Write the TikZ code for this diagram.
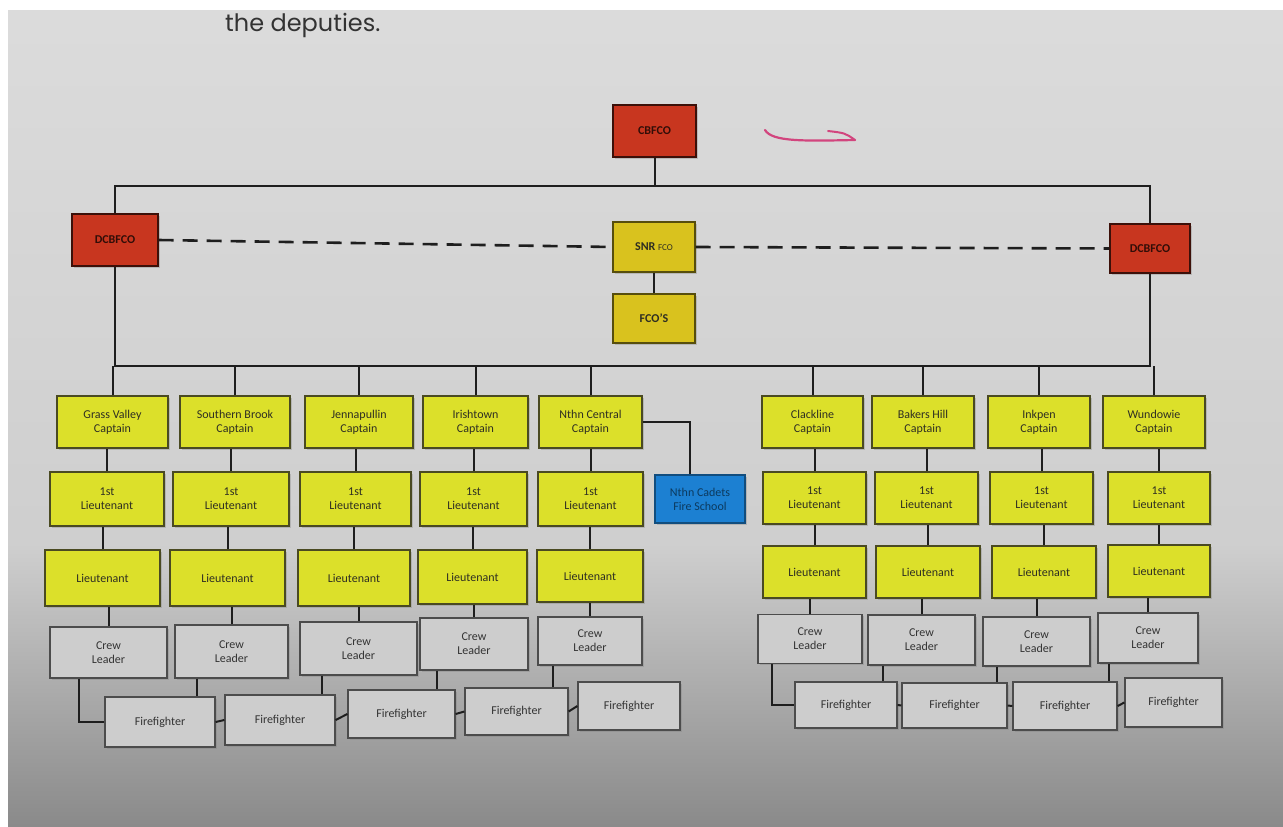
\documentclass[tikz,border=0pt]{standalone}
\usepackage{fontspec}
\setmainfont{Carlito}
\newfontfamily\headfont{Poppins}
\usetikzlibrary{shadows}
\definecolor{capy}{HTML}{DCE02A}
\definecolor{ydraw}{HTML}{4A4A22}
\definecolor{redf}{HTML}{C8361F}
\definecolor{mustard}{HTML}{D9C21E}
\definecolor{bluef}{HTML}{1C80D2}
\definecolor{grayf}{HTML}{CDCDCD}
\definecolor{txt}{HTML}{2E2E22}
\definecolor{linec}{HTML}{1E1E1E}
\definecolor{pinkmark}{HTML}{D2457E}
\tikzset{
  box/.style={draw, line width=1.2pt, inner sep=0pt, align=center,
    font=\fontsize{12}{14}\selectfont, text=txt,
    drop shadow={opacity=0.35, shadow xshift=1.5pt, shadow yshift=-1.5pt}},
  ybox/.style={box, fill=capy, draw=ydraw},
  rbox/.style={box, fill=redf, draw=black!70!redf, font=\bfseries\fontsize{12}{14}\selectfont, text=black!75!redf},
  mbox/.style={box, fill=mustard, draw=black!60!mustard, font=\bfseries\fontsize{12}{14}\selectfont},
  bbox/.style={box, fill=bluef, draw=black!40!bluef, text=black!55!bluef},
  gbox/.style={box, fill=grayf, draw=black!70, text=black!80},
  link/.style={draw=linec, line width=2pt},
  dline/.style={draw=linec, line width=2.6pt, dash pattern=on 15pt off 9pt}
}
\begin{document}
\begin{tikzpicture}[x=1pt,y=-1pt]
\useasboundingbox (0,0) rectangle (1283,827);
% paper background
\fill[white] (0,0) rectangle (1283,827);
\shade[top color=black!14, bottom color=black!19] (8,10) rectangle (1283,545);
\shade[top color=black!19, bottom color=black!46] (8,545) rectangle (1283,827);
% printed text at top
\node[anchor=base west, font=\headfont\fontsize{24}{26}\selectfont, text=black!80, inner sep=0pt] (dep) at (225,31) {the deputies.};
% pink hand mark
\draw[pinkmark, line width=2.2pt, line cap=round] (765,130) .. controls (772,142) and (805,141) .. (855,140);
\draw[pinkmark, line width=2pt, line cap=round] (828,131) .. controls (845,133) .. (855,140);

% top level
\node[rbox, minimum width=83, minimum height=52] (cb) at (654.5,131) {CBFCO};
\node[rbox, minimum width=86, minimum height=52] (dl) at (115,240) {DCBFCO};
\node[rbox, minimum width=80, minimum height=49] (dr) at (1150,248.5) {DCBFCO};
\node[mbox, minimum width=82, minimum height=50] (snr) at (654,247) {SNR {\mdseries\small FCO}};
\node[mbox, minimum width=82, minimum height=49] (fco) at (654,318.5) {FCO'S};

\coordinate (tbL) at (115,186);
\coordinate (tbR) at (1150,186);
\coordinate (lbL) at (115,366);
\coordinate (lbR) at (1150,366);
\draw[link] (dl.north) -- (tbL) -- (tbR) -- (dr.north);
\draw[link] (cb.south) -- (cb.south |- tbL);
\draw[link] (snr.south) -- (fco.north);
\draw[link] (dl.south) -- (lbL) -- (lbR) -- (dr.south);
\draw[dline] (dl.east) -- (snr.west);
\draw[dline] (snr.east) -- (dr.west);

% captains
\node[ybox, minimum width=111, minimum height=52] (c1) at (112.5,422) {Grass Valley\\Captain};
\node[ybox, minimum width=110, minimum height=52] (c2) at (235,422) {Southern Brook\\Captain};
\node[ybox, minimum width=108, minimum height=52] (c3) at (359,422) {Jennapullin\\Captain};
\node[ybox, minimum width=105, minimum height=52] (c4) at (475.5,422) {Irishtown\\Captain};
\node[ybox, minimum width=103, minimum height=52] (c5) at (590.5,422) {Nthn Central\\Captain};
\node[ybox, minimum width=101, minimum height=52] (c6) at (812.5,422) {Clackline\\Captain};
\node[ybox, minimum width=102, minimum height=52] (c7) at (923,422) {Bakers Hill\\Captain};
\node[ybox, minimum width=102, minimum height=52] (c8) at (1039,422) {Inkpen\\Captain};
\node[ybox, minimum width=102, minimum height=52] (c9) at (1154,422) {Wundowie\\Captain};
\foreach \i in {1,...,9} {\draw[link] (c\i.north) -- (c\i.north |- lbL);}

% 1st lieutenants
\node[ybox, minimum width=114, minimum height=54] (l1) at (107,499) {1st\\Lieutenant};
\node[ybox, minimum width=116, minimum height=54] (l2) at (231,499) {1st\\Lieutenant};
\node[ybox, minimum width=111, minimum height=54] (l3) at (355.5,499) {1st\\Lieutenant};
\node[ybox, minimum width=107, minimum height=54] (l4) at (473.5,499) {1st\\Lieutenant};
\node[ybox, minimum width=105, minimum height=54] (l5) at (590.5,499) {1st\\Lieutenant};
\node[ybox, minimum width=103, minimum height=52] (l6) at (814.5,498) {1st\\Lieutenant};
\node[ybox, minimum width=103, minimum height=52] (l7) at (926.5,498) {1st\\Lieutenant};
\node[ybox, minimum width=103, minimum height=52] (l8) at (1041.5,498) {1st\\Lieutenant};
\node[ybox, minimum width=102, minimum height=52] (l9) at (1159,498) {1st\\Lieutenant};
\node[bbox, minimum width=90, minimum height=48] (blue) at (700,499) {Nthn Cadets\\Fire School};
\draw[link] (c5.east) -| ([xshift=-10pt]blue.north);

% lieutenants
\node[ybox, minimum width=115, minimum height=56] (t1) at (102.5,578) {Lieutenant};
\node[ybox, minimum width=115, minimum height=56] (t2) at (227.5,578) {Lieutenant};
\node[ybox, minimum width=112, minimum height=56] (t3) at (354,578) {Lieutenant};
\node[ybox, minimum width=109, minimum height=54] (t4) at (472.5,577) {Lieutenant};
\node[ybox, minimum width=106, minimum height=52] (t5) at (590,576) {Lieutenant};
\node[ybox, minimum width=103, minimum height=52] (t6) at (814.5,572) {Lieutenant};
\node[ybox, minimum width=104, minimum height=52] (t7) at (928,572) {Lieutenant};
\node[ybox, minimum width=104, minimum height=52] (t8) at (1044,572) {Lieutenant};
\node[ybox, minimum width=102, minimum height=52] (t9) at (1159,571) {Lieutenant};

% crew leaders
\node[gbox, minimum width=117, minimum height=51] (r1) at (108.5,652.5) {Crew\\Leader};
\node[gbox, minimum width=113, minimum height=53] (r2) at (231.5,651.5) {Crew\\Leader};
\node[gbox, minimum width=117, minimum height=53] (r3) at (358.5,648.5) {Crew\\Leader};
\node[gbox, minimum width=108, minimum height=52] (r4) at (474,644) {Crew\\Leader};
\node[gbox, minimum width=104, minimum height=48] (r5) at (590,641) {Crew\\Leader};
\node[gbox, minimum width=104, minimum height=49] (r6) at (810,639) {Crew\\Leader};
\node[gbox, minimum width=107, minimum height=50] (r7) at (921.5,640) {Crew\\Leader};
\node[gbox, minimum width=107, minimum height=49] (r8) at (1036.5,641.5) {Crew\\Leader};
\node[gbox, minimum width=100, minimum height=50] (r9) at (1148,638) {Crew\\Leader};

\foreach \i in {1,...,9} {
  \draw[link] (l\i.north) -- (l\i.north |- c\i.south);
  \draw[link] (t\i.north) -- (t\i.north |- l\i.south);
  \draw[link] (r\i.north) -- (r\i.north |- t\i.south);
}

% firefighters
\node[gbox, minimum width=110, minimum height=50] (f1) at (160,722) {Firefighter};
\node[gbox, minimum width=110, minimum height=50] (f2) at (280,720) {Firefighter};
\node[gbox, minimum width=107, minimum height=48] (f3) at (401.5,714) {Firefighter};
\node[gbox, minimum width=103, minimum height=47] (f4) at (516.5,711.5) {Firefighter};
\node[gbox, minimum width=102, minimum height=48] (f5) at (629,706) {Firefighter};
\node[gbox, minimum width=102, minimum height=46] (f6) at (846,705) {Firefighter};
\node[gbox, minimum width=105, minimum height=45] (f7) at (954.5,705.5) {Firefighter};
\node[gbox, minimum width=104, minimum height=48] (f8) at (1065,706) {Firefighter};
\node[gbox, minimum width=97, minimum height=49] (f9) at (1173.5,702.5) {Firefighter};

\draw[link] ([xshift=-30pt]r1.south) |- (f1.west);
\draw[link] ([xshift=-35pt]r2.south) -- ([xshift=-35pt]r2.south |- f1.north);
\draw[link] ([xshift=-36.5pt]r3.south) -- ([xshift=-36.5pt]r3.south |- f2.north);
\draw[link] ([xshift=-37pt]r4.south) -- ([xshift=-37pt]r4.south |- f3.north);
\draw[link] ([xshift=-37pt]r5.south) -- ([xshift=-37pt]r5.south |- f4.north);
\draw[link] ([xshift=-38pt]r6.south) |- (f6.west);
\draw[link] ([xshift=-38.5pt]r7.south) -- ([xshift=-38.5pt]r7.south |- f6.north);
\draw[link] ([xshift=-39.5pt]r8.south) -- ([xshift=-39.5pt]r8.south |- f7.north);
\draw[link] ([xshift=-39pt]r9.south) -- ([xshift=-39pt]r9.south |- f8.north);
\draw[link] (f1.east) -- (f2.west);
\draw[link] (f2.east) -- (f3.west);
\draw[link] (f3.east) -- (f4.west);
\draw[link] (f4.east) -- (f5.west);
\draw[link] (f6.east) -- (f7.west);
\draw[link] (f7.east) -- (f8.west);
\draw[link] (f8.east) -- (f9.west);
\end{tikzpicture}
\end{document}
